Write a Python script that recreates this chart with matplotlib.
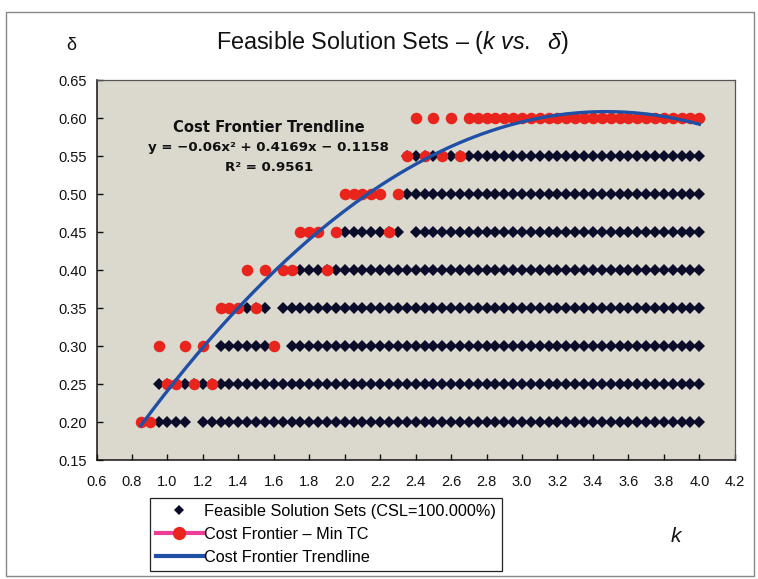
import matplotlib
matplotlib.use("Agg")
import matplotlib.pyplot as plt
from matplotlib.lines import Line2D
from matplotlib.patches import Rectangle
import numpy as np

plt.rcParams['font.family'] = ['Liberation Sans', 'DejaVu Sans']
plt.rcParams['mathtext.fontset'] = 'custom'
plt.rcParams['mathtext.rm'] = 'Liberation Sans'
plt.rcParams['mathtext.it'] = 'Liberation Sans:italic'

# delta levels of the grid search
delta_levels = [0.20, 0.25, 0.30, 0.35, 0.40, 0.45, 0.50, 0.55, 0.60]
k_step = 0.05

# feasible k ranges (start, end) on the 0.05 grid for each delta
feasible_ranges = [
    [(0.95, 1.10), (1.20, 4.00)],
    [(0.95, 4.00)],
    [(1.30, 1.55), (1.70, 4.00)],
    [(1.45, 1.55), (1.65, 4.00)],
    [(1.75, 4.00)],
    [(2.00, 2.30), (2.40, 4.00)],
    [(2.35, 4.00)],
    [(2.35, 4.00)],
    [],
]

# minimum total cost points (cost frontier)
frontier_k = [
    [0.85, 0.90],
    [1.00, 1.05, 1.15, 1.25],
    [0.95, 1.10, 1.20, 1.60],
    [1.30, 1.35, 1.40, 1.50],
    [1.45, 1.55, 1.65, 1.70, 1.90],
    [1.75, 1.80, 1.85, 1.95, 2.25],
    [2.00, 2.05, 2.10, 2.15, 2.20, 2.30],
    [2.35, 2.45, 2.55, 2.65],
    [2.40, 2.50, 2.60, 2.70, 2.75, 2.80, 2.85, 2.90, 2.95, 3.00, 3.05,
     3.10, 3.15, 3.20, 3.25, 3.30, 3.35, 3.40, 3.45, 3.50, 3.55, 3.60,
     3.65, 3.70, 3.75, 3.80, 3.85, 3.90, 3.95, 4.00],
]

# quadratic trendline of the frontier
coef_a, coef_b, coef_c = -0.06, 0.4169, -0.1158
r_squared = 0.9561
trend_k0, trend_k1 = 0.85, 4.00

xticks = np.arange(0.6, 4.21, 0.2)
yticks = np.arange(0.15, 0.651, 0.05)

W, H = 758, 579
fig = plt.figure(figsize=(W / 100, H / 100), dpi=100)
ax = fig.add_axes([96.5 / W, 1 - 460 / H, 638.3 / W, 380 / H])
ax.set_facecolor('#dbd8ce')

navy = '#0b0b2a'
red = '#e8241c'
blue = '#2050a6'
pink = '#ee3d96'

for d, ranges in zip(delta_levels, feasible_ranges):
    for a, b in ranges:
        ks = np.arange(a, b + k_step / 2, k_step)
        ax.plot(ks, np.full(len(ks), d), 'D', color=navy, ms=6.3, mew=0, zorder=3)

for d, ks in zip(delta_levels, frontier_k):
    ax.plot(ks, np.full(len(ks), d), 'o', color=red, ms=8.3, mew=0, zorder=4)

kk = np.linspace(trend_k0, trend_k1, 200)
ax.plot(kk, coef_a * kk**2 + coef_b * kk + coef_c, color=blue, lw=2.4, zorder=5)

ax.set_xlim(0.6, 4.2)
ax.set_ylim(0.15, 0.65)
ax.set_xticks(xticks)
ax.set_yticks(yticks)
ax.set_xticklabels([f"{v:.1f}" for v in xticks])
ax.set_yticklabels([f"{v:.2f}" for v in yticks])
ax.tick_params(axis='both', direction='in', length=4, width=1, labelsize=10.5, colors='#111111')
ax.tick_params(axis='x', pad=11)
ax.tick_params(axis='y', pad=7)
for side in ['left', 'bottom']:
    ax.spines[side].set_color('#111111')
    ax.spines[side].set_linewidth(1.1)
for side in ['top', 'right']:
    ax.spines[side].set_color('#555555')
    ax.spines[side].set_linewidth(0.9)

# trendline annotation
note_font = dict(transform=ax.transAxes, ha='center', va='center',
                 fontweight='bold', color='#111111', family='DejaVu Sans')
ax.text(0.27, 0.876, "Cost Frontier Trendline", fontsize=10.6, **note_font)
ax.text(0.27, 0.822,
        f"y = \u2212{abs(coef_a):.2f}x\u00b2 + {coef_b:.4f}x \u2212 {abs(coef_c):.4f}",
        fontsize=9.6, **note_font)
ax.text(0.27, 0.770, f"R\u00b2 = {r_squared:.4f}", fontsize=9.6, **note_font)

fig.text(392 / W, 1 - 43 / H,
         "Feasible Solution Sets \u2013 (" + r"$\mathit{k\ vs.}\ \ \mathit{\delta}$" + ")",
         ha='center', va='center', fontsize=16.8, color='#111111')
fig.text(71 / W, 1 - 45 / H, "\u03b4", ha='center', va='center', fontsize=13, color='#111111')
fig.text(676 / W, 1 - 537 / H, "k", ha='center', va='center', fontsize=15,
         style='italic', color='#111111')

handles = [
    Line2D([], [], ls='none', marker='D', color=navy, ms=5.5, mew=0),
    Line2D([], [], color=pink, lw=3, marker='o', ms=8.5, mfc=red, mec=red),
    Line2D([], [], color=blue, lw=3),
]
labels = ["Feasible Solution Sets (CSL=100.000%)", "Cost Frontier \u2013 Min TC",
          "Cost Frontier Trendline"]
leg = fig.legend(handles, labels, loc='upper left', bbox_to_anchor=(150 / W, 1 - 498 / H),
                 fontsize=11.7, frameon=True, fancybox=False, edgecolor='#222222',
                 framealpha=1, handlelength=2.9, handletextpad=0.1, borderpad=0.35,
                 labelspacing=0.5, borderaxespad=0)
leg.get_frame().set_linewidth(0.9)

fig.patches.append(Rectangle((6 / W, 3 / H), 748 / W, 564 / H, transform=fig.transFigure,
                             fill=False, edgecolor='#888888', lw=1))

fig.savefig("out.png", dpi=100)
